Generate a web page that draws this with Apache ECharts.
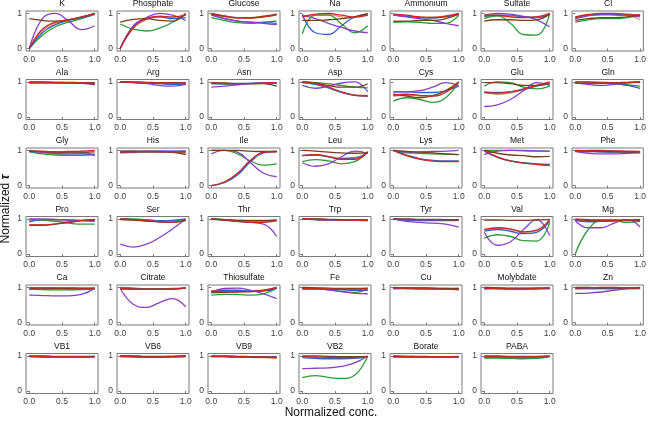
<!DOCTYPE html>
<html><head><meta charset="utf-8">
<script src="https://cdn.jsdelivr.net/npm/echarts@6/dist/echarts.min.js"></script>
<style>html,body{margin:0;padding:0;background:#fff}#c{width:649px;height:421px}</style>
</head><body><div id="c"></div>
<script>
const panelNames = ['K','Phosphate','Glucose','Na','Ammonium','Sulfate','Cl',
 'Ala','Arg','Asn','Asp','Cys','Glu','Gln',
 'Gly','His','Ile','Leu','Lys','Met','Phe',
 'Pro','Ser','Thr','Trp','Tyr','Val','Mg',
 'Ca','Citrate','Thiosulfate','Fe','Cu','Molybdate','Zn',
 'VB1','VB6','VB9','VB2','Borate','PABA'];
const xs = [0, 0.2, 0.4, 0.6, 0.8, 1.0];
const xTickValues = [0, 0.5, 1];
const yTickValues = [0, 1];

const redValues = [
[0,.55,.75,.82,.9,1],[0,.6,.85,.92,.9,.95],[1,.93,.88,.87,.9,.97],[.9,.98,1,.95,.9,.95],[.98,.95,.9,.88,.92,1],[.95,.95,.9,.88,.9,1],[.9,.97,1,1,.98,.95],
[.98,.98,.98,.98,.97,.95],[1,.99,.98,.97,.97,.97],[.97,.96,.95,.95,.97,.98],[1,.95,.85,.72,.62,.6],[.62,.65,.62,.6,.7,1],[.7,.68,.72,.8,.9,1],[.97,.97,.97,.97,.98,1],
[1,.97,.96,.97,.98,1],[.95,.96,.97,.96,.96,.95],[0,.1,.35,.72,.95,.97],[.85,.88,.82,.75,.75,.95],[1,.85,.75,.7,.68,.68],[1,.82,.7,.64,.6,.57],[.99,1,1,.99,.98,.97],
[.83,.83,.86,.91,.96,.99],[1,.98,.95,.92,.9,.95],[1,.96,.93,.9,.9,.95],[1,.99,.98,.97,.96,.95],[.99,.99,.98,.98,.98,.98],[.7,.75,.72,.63,.68,.98],[1,.98,.97,.97,.97,.98],
[.99,.99,.99,.99,.98,.98],[.97,.96,.95,.95,.96,.98],[.9,.88,.87,.88,.92,1],[.97,.97,.96,.95,.95,.97],[.98,.98,.97,.96,.95,.93],[.98,.97,.96,.96,.97,.98],[.98,.99,1,1,.99,.99],
[.99,.99,.98,.98,.98,.99],[.99,.98,.97,.97,.98,.99],[.99,.99,.98,.97,.96,.95],[.98,.97,.96,.95,.95,.98],[.99,.99,.98,.98,.98,.98],[.98,.98,.98,.98,.98,.99]];
const blueValues = [
[0,.45,.68,.8,.88,.98],[0,.6,.85,.9,.85,.88],[.95,.85,.78,.75,.74,.72],[.98,.45,.4,.65,.9,.97],[.95,.92,.88,.87,.9,.98],[.92,.95,.95,.9,.88,.98],[.88,.95,.97,.96,.95,.93],
[.99,.99,.99,.98,.98,.97],[1,.99,.97,.95,.93,.94],[.95,.95,.95,.96,.97,.97],[.98,.93,.83,.7,.62,.6],[.72,.72,.7,.7,.75,.88],[.72,.7,.72,.78,.88,.95],[.97,.95,.96,.95,.9,.82],
[.97,.95,.92,.9,.9,.88],[.97,.98,.98,.98,.98,.99],[0,.08,.3,.68,.93,.97],[.85,.87,.82,.77,.78,.95],[1,.87,.77,.72,.7,.7],[.98,.8,.7,.65,.62,.6],[.98,.97,.96,.95,.95,.95],
[.92,.98,.98,.97,.96,.95],[1,.98,.96,.95,.96,1],[.99,.97,.95,.95,.95,.96],[1,.98,.97,.97,.97,.98],[1,.96,.95,.95,.95,.96],[.65,.7,.65,.58,.62,.95],[.95,.92,.93,.94,.95,.95],
[.95,.96,.96,.96,.96,.97],[.98,.97,.96,.96,.97,.98],[.88,.92,.92,.9,.9,.98],[.95,.95,.94,.93,.92,.92],[.96,.97,.97,.97,.96,.95],[.95,.97,.96,.96,.97,.98],[.97,.98,.98,.98,.98,.98],
[.98,.97,.96,.96,.97,.98],[1,.99,.98,.98,.99,1],[.98,.98,.97,.97,.97,.97],[.95,.93,.92,.92,.93,.98],[.98,.97,.97,.96,.96,.97],[.97,.97,.96,.96,.97,.99]];
const greenValues = [
[0,.38,.62,.75,.85,.97],[.7,.55,.5,.58,.75,1],[.88,.8,.74,.72,.75,.78],[.42,.95,.95,.7,.45,.65],[.75,.76,.75,.72,.72,.95],[.85,.93,.72,.4,.38,1],[.75,.82,.85,.85,.88,.95],
[.97,.97,.97,.97,.96,.96],[.99,.99,.98,.98,.98,.98],[.95,.94,.94,.95,.96,.97],[1,.98,.95,.9,.85,.83],[.45,.55,.5,.42,.55,1],[.88,1,.98,.85,.8,.88],[.98,.98,.97,.95,.92,.88],
[.97,.9,.87,.86,.86,.88],[.96,.96,.96,.96,.96,.96],[1,1,.9,.7,.58,.62],[.68,.74,.7,.62,.68,.97],[1,.93,.92,.9,.89,.88],[1,1,1,.99,.98,.98],[.98,.98,.97,.97,.96,.96],
[.98,.97,.93,.88,.85,.85],[1,1,.98,.95,.95,.98],[1,.98,.96,.96,.96,.95],[.99,.99,.98,.98,.98,.97],[1,.97,.96,.96,.97,.98],[.45,.55,.5,.38,.37,.9],[0,.7,.95,.95,.9,.93],
[.95,.94,.93,.93,.94,.97],[1,.98,.96,.95,.95,.98],[.78,.8,.8,.78,.82,.98],[.98,.97,.93,.88,.86,.96],[.98,.98,.98,.97,.97,.96],[.98,.98,.97,.97,.97,.97],[.96,.96,.96,.96,.96,.97],
[.98,.97,.96,.96,.96,.97],[.98,.97,.96,.96,.97,.98],[.98,.98,.97,.97,.97,.97],[.38,.44,.39,.36,.45,1],[.97,.97,.97,.97,.97,.97],[.94,.94,.93,.92,.93,.98]];
const purpleValues = [
[0,.85,1,.78,.54,.65],[0,.65,.88,1,.95,.8],[.97,.85,.78,.75,.72,.68],[.95,.85,.72,.6,.5,.45],[.95,.9,.85,.8,.72,.65],[.95,1,.98,.92,.82,.62],[.85,.93,.97,.97,.95,.9],
[.99,.99,.98,.97,.96,.92],[1,.98,.95,.9,.88,.93],[.85,.88,.92,.95,.97,.98],[.9,.82,.88,.97,1,.72],[.72,.72,.75,.85,.98,.9],[.3,.35,.5,.75,.98,.9],[.98,.93,.9,.93,.97,1],
[.98,.95,.93,.96,.95,.85],[.93,.95,.97,.97,.97,.98],[.9,1,.95,.65,.35,.25],[.65,.55,.62,.82,.98,.92],[1,.95,.96,.97,.98,1],[.88,.98,1,1,.99,.98],[.97,.92,.9,.9,.92,.93],
[1,1,.99,.97,.95,.93],[.28,.2,.28,.47,.72,1],[1,.97,.93,.9,.85,.5],[1,.98,.97,.97,.97,.96],[1,.93,.9,.88,.85,.77],[.62,.25,.35,.7,.98,.52],[.95,.75,.75,.88,.98,.77],
[.78,.77,.76,.76,.8,.98],[.97,.52,.43,.57,.68,.45],[.85,.97,.98,.92,.82,.68],[.98,.97,.93,.88,.83,.82],[.98,.97,.96,.96,.96,.97],[.98,.97,.95,.95,.96,.97],[.83,.84,.87,.92,.97,1],
[.99,.98,.97,.97,.97,.98],[1,.99,.98,.98,.98,.99],[.99,.99,.98,.98,.98,.97],[.64,.65,.66,.7,.8,1],[.99,.98,.97,.96,.96,.97],[.97,.97,.96,.95,.96,.99]];
const orangeValues = [
[0,.5,.72,.8,.88,1],[0,.58,.82,.9,.88,.95],[.97,.9,.86,.87,.9,.95],[.9,.95,.97,.9,.88,.95],[.96,.93,.9,.9,.92,.99],[.9,.93,.92,.9,.9,.97],[.85,.95,.98,.97,.95,.82],
[.98,.98,.97,.97,.96,.95],[.99,.98,.97,.96,.96,.97],[.96,.95,.95,.95,.96,.96],[.99,.94,.84,.71,.63,.62],[.6,.62,.6,.62,.75,1],[.7,.65,.68,.78,.9,.97],[.96,.96,.96,.97,.98,.99],
[.97,.93,.9,.9,.91,.9],[.94,.94,.95,.95,.94,.92],[0,.1,.33,.7,.94,.97],[.86,.87,.83,.78,.8,.95],[1,.86,.76,.71,.69,.69],[.99,.81,.7,.64,.61,.58],[.98,.97,.96,.95,.95,.94],
[.95,.96,.95,.94,.95,.97],[.99,.97,.95,.93,.92,.96],[1,.97,.94,.92,.92,.95],[1,.99,.98,.97,.96,.95],[.99,.98,.97,.97,.97,.96],[.68,.73,.7,.62,.66,.96],[.97,.95,.95,.95,.96,.97],
[.97,.97,.97,.97,.97,.97],[.97,.96,.95,.95,.96,.98],[.9,.9,.9,.9,.92,.98],[.97,.96,.95,.95,.95,.96],[.98,.97,.96,.96,.95,.95],[.98,.97,.96,.96,.97,.98],[.98,.98,.98,.98,.98,.98],
[.98,.98,.97,.97,.97,.98],[.98,.98,.97,.97,.97,.98],[.98,.98,.97,.96,.95,.93],[.97,.96,.95,.95,.95,.98],[.97,.97,.97,.97,.97,.97],[.96,.96,.95,.95,.96,.98]];
const brownValues = [
[.85,.8,.78,.82,.9,1],[.75,.83,.85,.8,.78,1],[.98,.92,.88,.88,.92,.98],[.8,.8,.82,.85,.9,1],[.78,.78,.8,.8,.85,.98],[.78,.82,.82,.8,.82,.98],[.8,.85,.88,.88,.9,.97],
[1,1,.99,.99,.98,.98],[1,1,.99,.98,.98,.98],[.98,.97,.96,.96,.95,.88],[1,.97,.9,.85,.85,.95],[.65,.6,.55,.6,.75,1],[.98,.98,.95,.9,.9,.95],[1,1,.99,.98,.99,1],
[.98,.97,.96,.95,.95,.96],[.98,.98,.97,.97,.95,.88],[1,1,1,.98,.97,.97],[1,.98,.95,.93,.92,.93],[1,.97,.95,.93,.9,.88],[1,.92,.87,.85,.82,.83],[1,.99,.98,.97,.96,.96],
[.82,.82,.85,.9,.95,.98],[.98,.97,.94,.92,.9,.97],[1,.98,.96,.95,.95,.97],[1,1,.99,.98,.97,.96],[1,1,.99,.99,.98,.97],[.97,.97,.96,.96,.97,.98],[.98,.96,.96,.96,.96,.97],
[.98,.98,.98,.97,.97,.97],[.96,.95,.95,.95,.96,.99],[.85,.86,.88,.88,.9,1],[1,.99,.98,.97,.97,.98],[1,.99,.99,.98,.97,.97],[1,.99,.98,.98,.98,.99],[1,1,.99,.99,.99,.99],
[1,1,.99,.99,.99,.99],[1,1,.99,.99,.99,1],[1,1,.99,.98,.97,.96],[1,1,.99,.98,.98,.99],[1,.99,.99,.98,.98,.99],[1,1,.99,.99,.99,1]];

// drawing order: bottom to top
const lineSets = [
  {values: orangeValues, color: '#e0956a'},
  {values: greenValues, color: '#2e9a3a'},
  {values: blueValues, color: '#3b5ec4'},
  {values: purpleValues, color: '#8a40c4'},
  {values: brownValues, color: '#73401a'},
  {values: redValues, color: '#c02c2c'}
];

const FONT = '"Liberation Sans", Arial, sans-serif';
const grids = [], xAxes = [], yAxes = [], series = [], graphics = [];
const PW = 72, PH = 40;
panelNames.forEach((name, i) => {
  const r = Math.floor(i / 7), c = i % 7;
  const left = 26 + 91 * c, top = 11 + 68.5 * r;
  grids.push({left: left, top: top, width: PW, height: PH, show: true,
    borderColor: '#7a7a7a', borderWidth: 1, backgroundColor: 'transparent', containLabel: false});
  xAxes.push({type: 'value', gridIndex: i, min: -0.05, max: 1.05,
    axisLine: {show: false}, splitLine: {show: false},
    axisTick: {show: true, length: 2.5, lineStyle: {color: '#7a7a7a', width: 1}, customValues: xTickValues},
    axisLabel: {show: true, customValues: xTickValues, formatter: v => Number(v).toFixed(1),
      fontSize: 8.5, color: '#3d3d3d', margin: 4, fontFamily: FONT}});
  yAxes.push({type: 'value', gridIndex: i, min: -0.07, max: 1.07,
    axisLine: {show: false}, splitLine: {show: false},
    axisTick: {show: true, length: 2.5, lineStyle: {color: '#7a7a7a', width: 1}, customValues: yTickValues},
    axisLabel: {show: true, customValues: yTickValues, formatter: v => String(Math.round(v)),
      fontSize: 8.5, color: '#3d3d3d', margin: 4, fontFamily: FONT}});
  lineSets.forEach(ls => {
    series.push({type: 'line', xAxisIndex: i, yAxisIndex: i,
      data: xs.map((x, j) => [x, ls.values[i][j]]),
      smooth: 0.45, showSymbol: false, symbol: 'none', silent: true,
      lineStyle: {width: 1.3, color: ls.color}, itemStyle: {color: ls.color}});
  });
  graphics.push({type: 'text', x: left + PW / 2, y: top - 7, silent: true,
    style: {text: name, fill: '#111', font: '8.5px ' + FONT, align: 'center', verticalAlign: 'middle'}});
});
graphics.push({type: 'text', x: 6, y: 209, rotation: Math.PI / 2, silent: true,
  style: {text: '{a|Normalized }{b|τ}', align: 'center', verticalAlign: 'middle',
    rich: {a: {fontSize: 12, fontFamily: FONT, fill: '#111'},
           b: {fontSize: 12, fontFamily: FONT, fill: '#111', fontWeight: 'bold', fontStyle: 'italic'}}}});
graphics.push({type: 'text', x: 331, y: 413, silent: true,
  style: {text: 'Normalized conc.', fill: '#111', font: '12px ' + FONT, align: 'center', verticalAlign: 'middle'}});

const chart = echarts.init(document.getElementById('c'), null, {renderer: 'canvas'});
chart.setOption({animation: false, backgroundColor: '#fff',
  grid: grids, xAxis: xAxes, yAxis: yAxes, series: series, graphic: graphics});
</script></body></html>
